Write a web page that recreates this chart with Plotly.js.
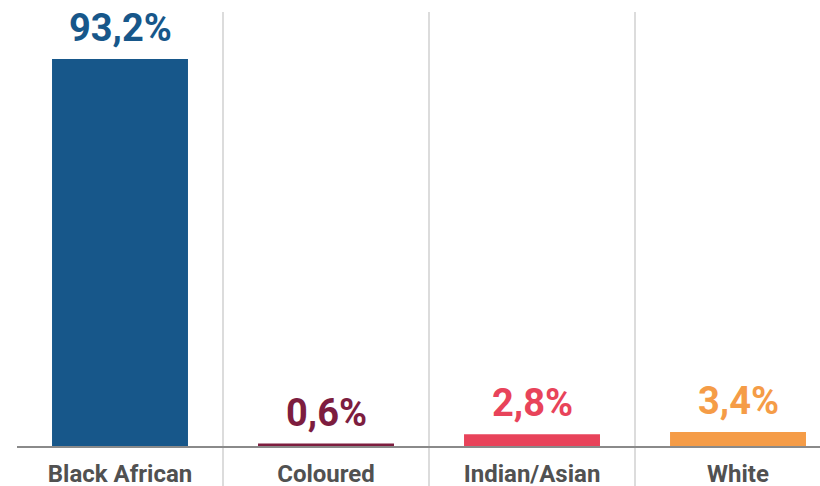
<!DOCTYPE html>
<html><head><meta charset="utf-8">
<script src="https://cdn.plot.ly/plotly-3.0.1.min.js"></script>
<style>html,body{margin:0;padding:0;background:#fff}#chart{width:820px;height:486px}</style>
</head><body><div id="chart"></div>
<script>
const categories = ["Black African", "Coloured", "Indian/Asian", "White"];
const values = [93.2, 0.6, 2.8, 3.4];
const valueLabels = ["93,2%", "0,6%", "2,8%", "3,4%"];
const colors = ["#17578a", "#7d1d3f", "#e8435a", "#f59c47"];

const trace = {
  type: "bar", x: categories, y: values,
  marker: {color: colors}, width: 0.66, hoverinfo: "none"
};
const annotations = categories.map((c, i) => ({
  x: c, y: values[i], text: valueLabels[i], showarrow: false,
  yanchor: "bottom", yshift: 7,
  font: {family: "Roboto", size: 38, weight: 700, color: colors[i]}
}));
const shapes = [0.5, 1.5, 2.5].map(b => ({
  type: "line", xref: "x", yref: "paper", x0: b, x1: b, y0: -0.1, y1: 1,
  line: {color: "#dcdcdc", width: 2}, layer: "below"
}));
const layout = {
  width: 820, height: 486,
  margin: {l: 17, r: 0, t: 12, b: 40},
  paper_bgcolor: "#fff", plot_bgcolor: "#fff",
  showlegend: false,
  xaxis: {range: [-0.5, 3.398], showgrid: false, showline: true, linecolor: "#8a8a8a", linewidth: 2,
    ticks: "", ticklabelstandoff: 5, tickfont: {family: "Roboto", size: 24, weight: 700, color: "#515151"}, fixedrange: true},
  yaxis: {range: [0, 104.5], showgrid: false, zeroline: false, showticklabels: false, visible: false},
  annotations: annotations, shapes: shapes
};
Plotly.newPlot("chart", [trace], layout, {displayModeBar: false, staticPlot: true});
</script></body></html>
